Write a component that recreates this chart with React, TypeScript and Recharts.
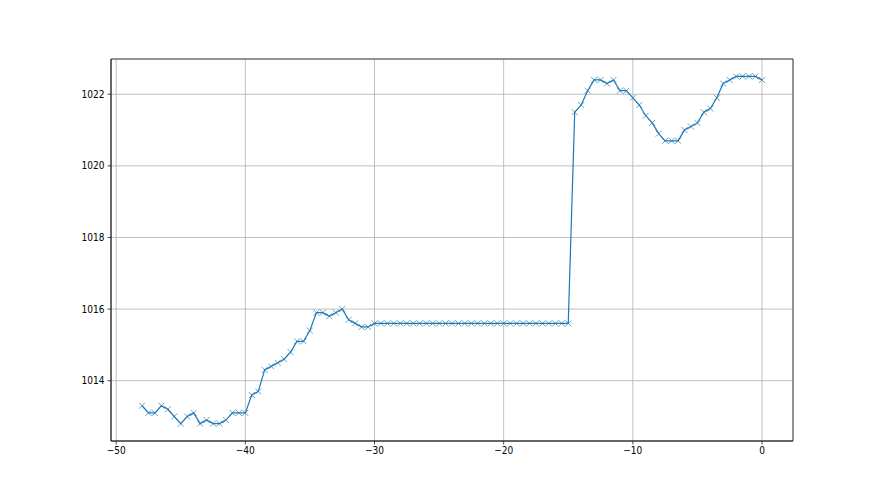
import React from 'react';
import { LineChart, Line, XAxis, YAxis, CartesianGrid, ReferenceArea } from 'recharts';

const hours: number[] = [
  -48, -47.5, -47, -46.5, -46, -45.5, -45, -44.5, -44, -43.5, -43, -42.5, -42, -41.5, -41, -40.5,
  -40, -39.5, -39, -38.5, -38, -37.5, -37, -36.5, -36, -35.5, -35, -34.5, -34, -33.5, -33, -32.5,
  -32, -31.5, -31, -30.5, -30, -29.5, -29, -28.5, -28, -27.5, -27, -26.5, -26, -25.5, -25, -24.5,
  -24, -23.5, -23, -22.5, -22, -21.5, -21, -20.5, -20, -19.5, -19, -18.5, -18, -17.5, -17, -16.5,
  -16, -15.5, -15, -14.5, -14, -13.5, -13, -12.5, -12, -11.5, -11, -10.5, -10, -9.5, -9, -8.5,
  -8, -7.5, -7, -6.5, -6, -5.5, -5, -4.5, -4, -3.5, -3, -2.5, -2, -1.5, -1, -0.5, 0,
];

const pressure: number[] = [
  1013.3, 1013.1, 1013.1, 1013.3, 1013.2, 1013.0, 1012.8, 1013.0, 1013.1, 1012.8, 1012.9, 1012.8,
  1012.8, 1012.9, 1013.1, 1013.1, 1013.1, 1013.6, 1013.7, 1014.3, 1014.4, 1014.5, 1014.6, 1014.8,
  1015.1, 1015.1, 1015.4, 1015.9, 1015.9, 1015.8, 1015.9, 1016.0, 1015.7, 1015.6, 1015.5, 1015.5,
  1015.6, 1015.6, 1015.6, 1015.6, 1015.6, 1015.6, 1015.6, 1015.6, 1015.6, 1015.6, 1015.6, 1015.6,
  1015.6, 1015.6, 1015.6, 1015.6, 1015.6, 1015.6, 1015.6, 1015.6, 1015.6, 1015.6, 1015.6, 1015.6,
  1015.6, 1015.6, 1015.6, 1015.6, 1015.6, 1015.6, 1015.6,
  1021.5, 1021.7, 1022.1, 1022.4, 1022.4, 1022.3, 1022.4, 1022.1, 1022.1, 1021.9, 1021.7, 1021.4,
  1021.2, 1020.9, 1020.7, 1020.7, 1020.7, 1021.0, 1021.1, 1021.2, 1021.5, 1021.6, 1021.9, 1022.3,
  1022.4, 1022.5, 1022.5, 1022.5, 1022.5, 1022.4,
];

const xTicks: number[] = [-50, -40, -30, -20, -10, 0];
const yTicks: number[] = [1014, 1016, 1018, 1020, 1022];
const xDomain: [number, number] = [-50.4, 2.4];
const yDomain: [number, number] = [1012.315, 1022.985];

const data = hours.map((h, i) => ({ x: h, y: pressure[i] }));

const BLUE = '#1f77b4';
const FONT = '"Liberation Sans Narrow", "DejaVu Sans Condensed", "DejaVu Sans", sans-serif';

const fmt = (v: number) => String(v).replace('-', '\u2212');

const XMarker = (props: any) => {
  const { cx, cy, index } = props;
  if (cx == null || cy == null) return <g key={`m${index}`} />;
  const s = 3;
  return (
    <path
      key={`m${index}`}
      d={`M${cx - s},${cy - s}L${cx + s},${cy + s}M${cx - s},${cy + s}L${cx + s},${cy - s}`}
      stroke={BLUE}
      strokeWidth={0.8}
      strokeOpacity={0.85}
      fill="none"
    />
  );
};

export default function App() {
  return (
    <div style={{ position: 'absolute', left: 0, top: 0, width: 880, height: 495, background: '#fff' }}>
      <LineChart
        width={880}
        height={495}
        data={data}
        margin={{ top: 59, right: 87, bottom: 0, left: 0 }}
      >
        <CartesianGrid stroke="#b0b0b0" strokeWidth={0.8} />
        <XAxis
          type="number"
          dataKey="x"
          domain={xDomain}
          allowDataOverflow
          ticks={xTicks}
          tickFormatter={fmt}
          height={54}
          stroke="#222"
          strokeWidth={0.8}
          tickSize={3.5}
          tickMargin={2}
          tick={{ fill: '#000', fontSize: 10, fontFamily: FONT }}
        />
        <YAxis
          type="number"
          domain={yDomain}
          allowDataOverflow
          ticks={yTicks}
          width={111}
          stroke="#222"
          strokeWidth={0.8}
          tickSize={3.5}
          tickMargin={3}
          tick={{ fill: '#000', fontSize: 10, fontFamily: FONT }}
        />
        <ReferenceArea
          x1={xDomain[0]}
          x2={xDomain[1]}
          y1={yDomain[0]}
          y2={yDomain[1]}
          fill="none"
          fillOpacity={0}
          stroke="#222"
          strokeWidth={0.8}
          ifOverflow="visible"
        />
        <Line
          type="linear"
          dataKey="y"
          stroke={BLUE}
          strokeWidth={1.2}
          dot={XMarker}
          activeDot={false}
          isAnimationActive={false}
        />
      </LineChart>
    </div>
  );
}
